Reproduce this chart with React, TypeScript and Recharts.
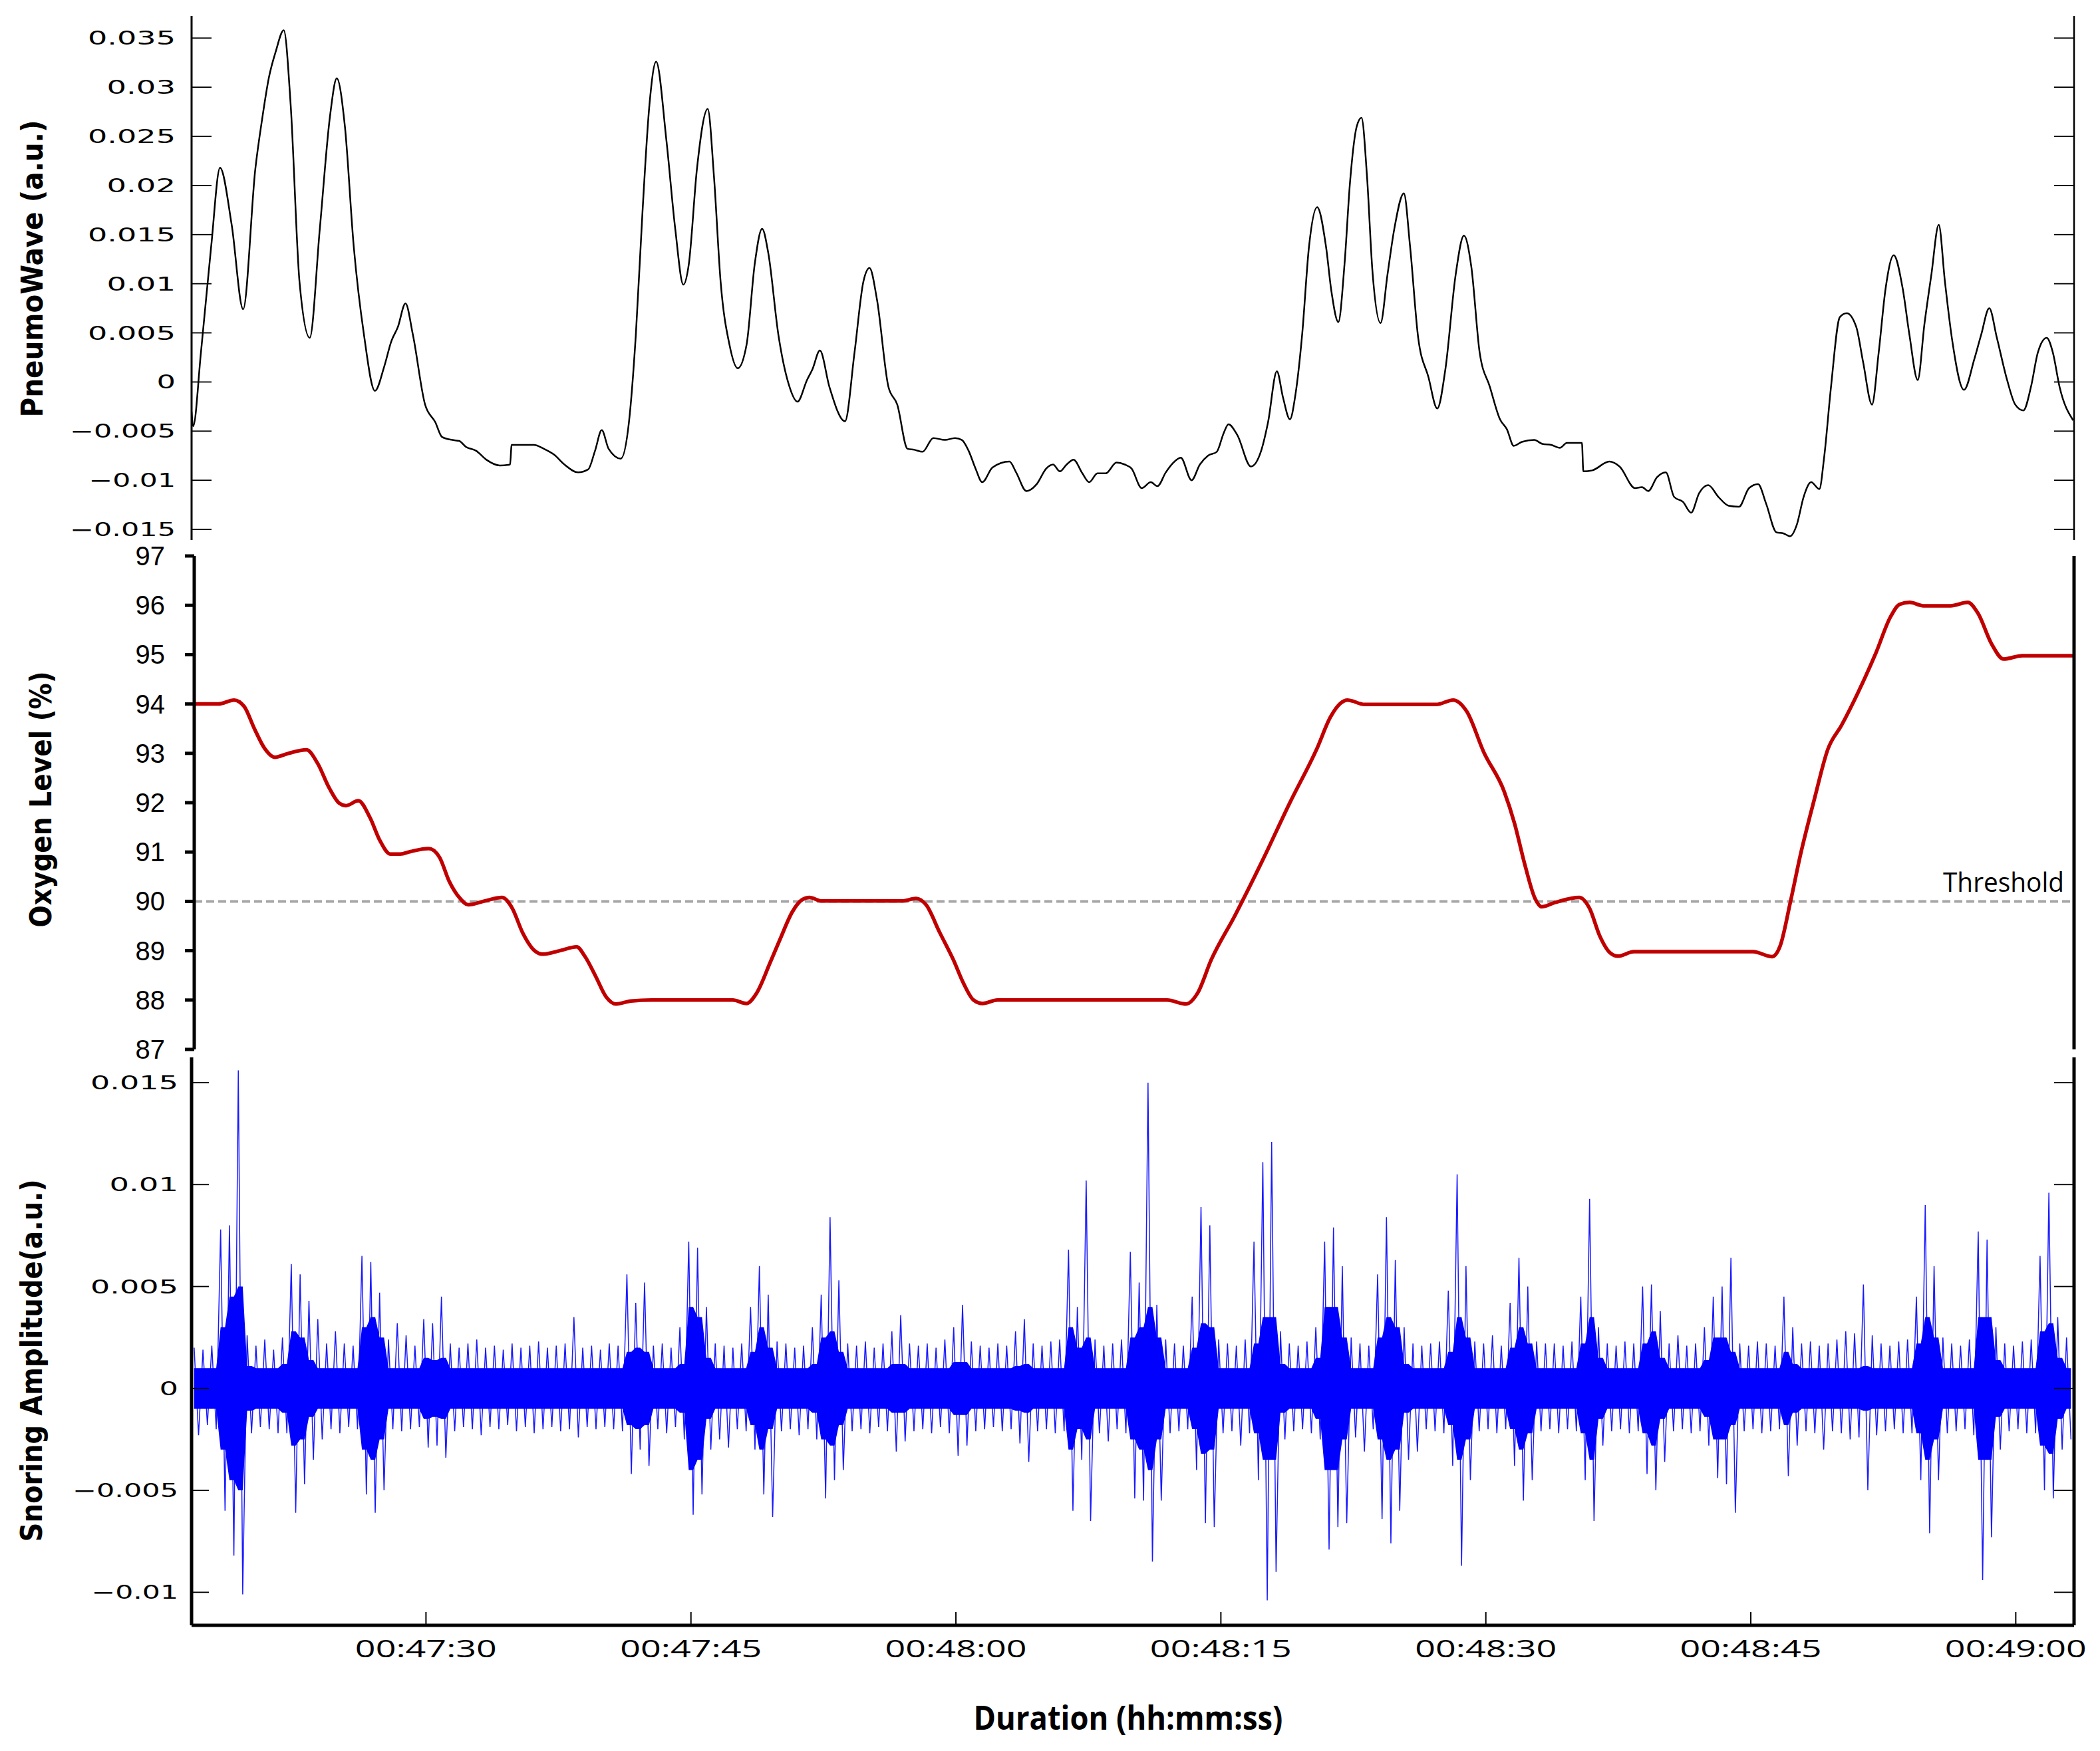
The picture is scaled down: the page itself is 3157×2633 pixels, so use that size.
import { LineChart, ComposedChart, Line, Area, XAxis, YAxis, ReferenceLine } from 'recharts'

// shared time axis (seconds since recording start)
const X_DOMAIN: [number, number] = [2836.73, 2943.3]
const TIME_TICKS = [2850, 2865, 2880, 2895, 2910, 2925, 2940]

// PneumoWave (a.u.)
const pnTime = [
  2836.73, 2836.82, 2837.26, 2837.84, 2838.34, 2839.0, 2839.65, 2840.34, 2840.72, 2841.11,
  2841.49, 2841.95, 2842.34, 2842.84, 2843.42, 2843.99, 2844.57, 2844.95, 2845.41, 2845.91,
  2846.49, 2847.11, 2847.64, 2848.03, 2848.41, 2848.84, 2849.26, 2849.95, 2850.53, 2850.91,
  2851.49, 2851.88, 2852.26, 2852.84, 2853.41, 2854.18, 2854.76, 2854.85, 2856.11, 2856.68,
  2857.26, 2857.84, 2858.61, 2859.18, 2859.57, 2859.95, 2860.34, 2861.03, 2861.49, 2861.88,
  2862.26, 2862.65, 2863.03, 2863.61, 2864.11, 2864.57, 2864.88, 2865.34, 2865.95, 2866.3,
  2866.68, 2867.18, 2867.65, 2868.15, 2868.61, 2869.03, 2869.38, 2869.95, 2870.53, 2871.03,
  2871.57, 2871.88, 2872.3, 2872.84, 2873.72, 2874.26, 2874.76, 2875.11, 2875.53, 2876.18,
  2876.68, 2877.26, 2877.65, 2878.11, 2878.72, 2879.38, 2879.95, 2880.34, 2880.72, 2881.11,
  2881.49, 2882.07, 2883.03, 2883.41, 2883.99, 2884.57, 2885.12, 2885.5, 2885.89, 2886.27,
  2886.66, 2887.16, 2887.55, 2888.01, 2888.48, 2889.09, 2889.56, 2889.94, 2890.52, 2891.03,
  2891.41, 2891.88, 2892.26, 2892.73, 2893.34, 2893.81, 2894.27, 2894.77, 2895.16, 2895.43,
  2895.93, 2896.7, 2897.28, 2897.67, 2898.17, 2898.52, 2898.91, 2899.22, 2899.6, 2899.99,
  2900.45, 2900.95, 2901.26, 2901.65, 2902.0, 2902.31, 2902.69, 2902.96, 2903.27, 2903.58,
  2904.04, 2904.43, 2904.82, 2905.36, 2905.71, 2906.17, 2906.75, 2907.25, 2907.71, 2908.29,
  2908.76, 2909.18, 2909.65, 2910.23, 2910.8, 2911.19, 2911.58, 2912.04, 2912.74, 2913.2,
  2913.7, 2914.2, 2914.59, 2915.44, 2915.52, 2916.02, 2916.99, 2917.57, 2918.45, 2918.84,
  2919.19, 2919.69, 2920.19, 2920.66, 2921.16, 2921.62, 2922.08, 2922.59, 2923.17, 2923.75,
  2924.33, 2924.9, 2925.41, 2925.87, 2926.45, 2926.84, 2927.22, 2927.61, 2927.99, 2928.42,
  2928.88, 2929.15, 2929.54, 2930.04, 2930.43, 2930.97, 2931.36, 2931.86, 2932.24, 2932.63,
  2933.09, 2933.6, 2933.98, 2934.45, 2934.83, 2935.22, 2935.64, 2935.99, 2936.38, 2937.07,
  2937.65, 2938.04, 2938.5, 2938.93, 2939.51, 2939.97, 2940.43, 2940.86, 2941.25, 2941.75,
  2942.1, 2942.48, 2943.25,
]
const pnValue = [
  -0.003, -0.0045, 0.003, 0.0138, 0.0218, 0.016, 0.0074, 0.0217, 0.0267, 0.031,
  0.0336, 0.0358, 0.0282, 0.0102, 0.0045, 0.0156, 0.0271, 0.0309, 0.026, 0.0138,
  0.0048, -0.0009, 0.0016, 0.0041, 0.0056, 0.008, 0.0048, -0.0023, -0.0041, -0.0056,
  -0.0059, -0.006, -0.0066, -0.007, -0.0079, -0.0085, -0.0084, -0.0064, -0.0064, -0.0068,
  -0.0074, -0.0084, -0.0092, -0.0089, -0.007, -0.0049, -0.0068, -0.0078, -0.0041, 0.0048,
  0.0174, 0.0282, 0.0326, 0.0246, 0.0156, 0.0099, 0.012, 0.0217, 0.0278, 0.021,
  0.0102, 0.0038, 0.0014, 0.0038, 0.012, 0.0156, 0.0131, 0.0048, -0.0002, -0.002,
  0.0002, 0.0013, 0.0032, -0.0005, -0.004, 0.003, 0.0102, 0.0116, 0.0084, -0.0005,
  -0.0023, -0.0068, -0.0069, -0.0071, -0.0057, -0.0059, -0.0057, -0.0059, -0.007, -0.0088,
  -0.0102, -0.0087, -0.0081, -0.0092, -0.0111, -0.0104, -0.0088, -0.0084, -0.0091, -0.0084,
  -0.0079, -0.0093, -0.0102, -0.0093, -0.0093, -0.0082, -0.0084, -0.0088, -0.0108, -0.0102,
  -0.0106, -0.0092, -0.0083, -0.0077, -0.01, -0.0084, -0.0075, -0.0071, -0.0052, -0.0043,
  -0.0054, -0.0086, -0.007, -0.0041, 0.0011, -0.0016, -0.0038, -0.0013, 0.0048, 0.0138,
  0.0178, 0.0138, 0.0092, 0.0061, 0.012, 0.0203, 0.026, 0.0269, 0.021, 0.0113,
  0.006, 0.0109, 0.0156, 0.0192, 0.0138, 0.0045, 0.0005, -0.0027, 0.0013, 0.0109,
  0.0149, 0.0117, 0.003, -0.0005, -0.0038, -0.0048, -0.0065, -0.0061, -0.0059, -0.0063,
  -0.0064, -0.0067, -0.0062, -0.0062, -0.0091, -0.009, -0.0081, -0.0086, -0.0108, -0.0107,
  -0.0111, -0.0097, -0.0092, -0.0117, -0.0122, -0.0133, -0.0113, -0.0105, -0.0117, -0.0126,
  -0.0127, -0.0108, -0.0104, -0.0124, -0.0153, -0.0154, -0.0157, -0.0145, -0.0117, -0.0102,
  -0.0109, -0.0077, -0.0005, 0.0066, 0.007, 0.0056, 0.002, -0.0023, 0.003, 0.0095,
  0.0129, 0.0095, 0.0048, 0.0002, 0.0059, 0.0109, 0.016, 0.0102, 0.0045, -0.0008,
  0.0023, 0.0048, 0.0075, 0.0045, 0.0002, -0.0023, -0.0029, -0.0005, 0.003, 0.0045,
  0.003, -0.0005, -0.0039,
]
const PNEUMO_TICKS = [-0.015, -0.01, -0.005, 0, 0.005, 0.01, 0.015, 0.02, 0.025, 0.03, 0.035]

// Oxygen level (%)
const oxTime = [
  2836.73, 2838.1, 2838.99, 2839.56, 2840.14, 2840.72, 2841.3, 2842.07, 2843.1, 2843.72,
  2844.38, 2844.95, 2845.34, 2846.03, 2846.69, 2847.26, 2847.84, 2848.41, 2848.99, 2850.03,
  2850.64, 2851.18, 2851.8, 2852.26, 2853.22, 2854.18, 2854.76, 2855.34, 2856.03, 2856.49,
  2857.45, 2858.41, 2858.87, 2859.49, 2860.07, 2860.64, 2861.49, 2862.64, 2867.26, 2868.03,
  2868.61, 2869.38, 2869.95, 2870.64, 2871.18, 2871.61, 2872.26, 2876.88, 2877.65, 2878.22,
  2878.99, 2879.76, 2880.34, 2880.91, 2881.42, 2882.26, 2891.88, 2892.96, 2893.61, 2894.39,
  2895.74, 2897.28, 2898.83, 2900.37, 2901.15, 2901.73, 2902.11, 2903.08, 2907.14, 2908.1,
  2908.87, 2909.84, 2910.99, 2911.58, 2912.16, 2912.74, 2913.12, 2913.9, 2915.25, 2915.83,
  2916.41, 2916.99, 2917.45, 2918.34, 2925.1, 2926.18, 2926.64, 2927.22, 2927.8, 2928.57,
  2929.35, 2930.12, 2931.09, 2932.05, 2932.9, 2933.41, 2933.98, 2934.76, 2936.3, 2937.27,
  2937.85, 2938.62, 2939.31, 2940.36, 2943.3,
]
const oxValue = [
  94.0, 94.0, 94.08, 93.95, 93.5, 93.1, 92.92, 93.0, 93.07, 92.8,
  92.3, 91.99, 91.94, 92.04, 91.7, 91.23, 90.96, 90.96, 91.01, 91.07,
  90.89, 90.41, 90.06, 89.93, 90.01, 90.08, 89.86, 89.37, 89.0, 88.93,
  89.0, 89.08, 88.89, 88.48, 88.07, 87.92, 87.98, 88.0, 88.0, 87.93,
  88.14, 88.76, 89.24, 89.79, 90.03, 90.08, 90.01, 90.01, 90.06, 89.93,
  89.37, 88.82, 88.34, 88.0, 87.93, 88.0, 88.0, 87.92, 88.14, 88.82,
  89.72, 90.82, 91.99, 93.09, 93.74, 94.02, 94.08, 93.99, 93.99, 94.08,
  93.85, 93.02, 92.23, 91.58, 90.75, 90.06, 89.89, 89.98, 90.08, 89.86,
  89.3, 88.96, 88.89, 88.98, 88.98, 88.88, 89.1, 89.99, 90.96, 92.06,
  93.09, 93.57, 94.26, 95.02, 95.77, 96.02, 96.06, 95.99, 95.99, 96.06,
  95.84, 95.22, 94.91, 94.98, 94.98,
]
const OXYGEN_TICKS = [87, 88, 89, 90, 91, 92, 93, 94, 95, 96, 97]
const OXYGEN_THRESHOLD = 90

// Snoring amplitude envelope, 0.5 s bins from 2837 s, in units of 1e-4 a.u.
const SNORE_START = 2837
const SNORE_STEP = 0.5
const snoreHi = [
  20, 19, 21, 78, 80, 156, 26, 21, 24, 19,
  25, 61, 56, 43, 34, 22, 28, 22, 21, 65,
  62, 47, 24, 32, 26, 21, 34, 32, 45, 22,
  20, 22, 24, 20, 21, 19, 22, 20, 21, 23,
  20, 21, 22, 35, 20, 21, 19, 22, 21, 56,
  42, 52, 21, 22, 20, 30, 72, 69, 40, 22,
  21, 20, 22, 40, 60, 46, 23, 22, 20, 21,
  30, 46, 84, 53, 22, 21, 23, 20, 22, 28,
  36, 22, 21, 22, 20, 24, 30, 41, 23, 21,
  20, 22, 21, 28, 34, 22, 21, 23, 24, 68,
  40, 102, 24, 21, 22, 24, 67, 52, 150, 41,
  24, 22, 21, 45, 89, 80, 24, 22, 21, 24,
  72, 111, 121, 28, 22, 21, 23, 30, 72, 79,
  60, 25, 22, 21, 56, 84, 63, 30, 22, 21,
  22, 23, 48, 105, 60, 23, 22, 26, 21, 42,
  64, 50, 23, 22, 22, 21, 23, 45, 93, 30,
  22, 21, 23, 22, 50, 51, 38, 22, 26, 21,
  22, 30, 45, 50, 64, 22, 21, 23, 22, 21,
  45, 30, 22, 23, 21, 22, 24, 28, 27, 51,
  26, 22, 21, 23, 24, 45, 90, 60, 25, 22,
  21, 24, 77, 73, 30, 22, 21, 23, 24, 65,
  96, 35, 25,
]
const snoreLo = [
  -23, -18, -20, -60, -82, -101, -22, -19, -20, -22,
  -22, -61, -47, -35, -25, -20, -22, -19, -20, -52,
  -61, -50, -20, -21, -20, -19, -29, -28, -34, -21,
  -19, -20, -23, -19, -20, -18, -21, -19, -22, -20,
  -19, -21, -20, -24, -19, -20, -19, -20, -21, -42,
  -30, -38, -20, -22, -19, -25, -62, -52, -30, -25,
  -29, -20, -21, -30, -52, -63, -21, -20, -23, -20,
  -25, -54, -45, -40, -21, -20, -22, -19, -21, -31,
  -26, -21, -20, -22, -19, -22, -33, -28, -21, -20,
  -19, -21, -20, -27, -36, -21, -20, -22, -21, -60,
  -35, -65, -22, -26, -20, -22, -54, -55, -85, -55,
  -22, -21, -20, -40, -66, -68, -22, -21, -28, -22,
  -45, -104, -90, -25, -21, -20, -22, -25, -79, -68,
  -66, -24, -31, -20, -64, -76, -60, -35, -31, -20,
  -21, -22, -38, -87, -45, -21, -20, -22, -20, -38,
  -55, -45, -21, -20, -22, -20, -21, -45, -65, -28,
  -21, -20, -22, -21, -42, -50, -36, -21, -20, -22,
  -21, -28, -44, -47, -61, -21, -20, -22, -21, -20,
  -43, -28, -21, -22, -30, -21, -22, -25, -24, -50,
  -23, -21, -20, -22, -22, -45, -71, -45, -22, -21,
  -20, -23, -94, -73, -30, -21, -20, -22, -22, -50,
  -54, -30, -25,
]
const snoreCore = [
  10, 10, 10, 30, 45, 50, 11, 10, 10, 10,
  12, 28, 25, 14, 10, 10, 10, 10, 10, 30,
  35, 25, 10, 10, 10, 10, 15, 14, 15, 10,
  10, 10, 10, 10, 10, 10, 10, 10, 10, 10,
  10, 10, 10, 10, 10, 10, 10, 10, 10, 18,
  20, 18, 10, 10, 10, 12, 40, 35, 15, 10,
  10, 10, 10, 18, 30, 20, 10, 10, 10, 10,
  12, 25, 28, 18, 10, 10, 10, 10, 10, 12,
  12, 10, 10, 10, 10, 10, 13, 13, 10, 10,
  10, 10, 10, 11, 12, 10, 10, 10, 10, 30,
  20, 25, 10, 10, 10, 10, 25, 30, 40, 25,
  10, 10, 10, 20, 32, 30, 10, 10, 10, 10,
  22, 35, 35, 12, 10, 10, 10, 15, 40, 40,
  25, 10, 10, 10, 25, 35, 30, 12, 10, 10,
  10, 10, 18, 35, 25, 10, 10, 10, 10, 20,
  30, 22, 10, 10, 10, 10, 10, 22, 35, 15,
  10, 10, 10, 10, 22, 28, 15, 10, 10, 10,
  10, 14, 25, 25, 18, 10, 10, 10, 10, 10,
  18, 12, 10, 10, 10, 10, 10, 10, 10, 11,
  10, 10, 10, 10, 10, 22, 35, 25, 10, 10,
  10, 10, 35, 35, 14, 10, 10, 10, 10, 28,
  32, 15, 10,
]
const SNORE_TICKS = [-0.01, -0.005, 0, 0.005, 0.01, 0.015]

const pnRows = pnTime.map((t, i) => ({ t, v: pnValue[i] }))
const oxRows = oxTime.map((t, i) => ({ t, v: oxValue[i] }))
const snoreRows = snoreHi.flatMap((hi, i) => {
  const t = SNORE_START + i * SNORE_STEP
  const c = snoreCore[i] * 1e-4
  return [
    { t: t - SNORE_STEP / 4, amp: hi * 1e-4, core: [-c, c] },
    { t: t + SNORE_STEP / 4, amp: snoreLo[i] * 1e-4, core: [-c, c] },
  ]
})

const pad = (n: number) => String(n).padStart(2, '0')
const hms = (s: number) => `${pad(Math.floor(s / 3600))}:${pad(Math.floor((s % 3600) / 60))}:${pad(Math.round(s % 60))}`
const numLabel = (v: number) => (v < 0 ? '\u2212' : '') + String(Math.abs(v))
// the original tick labels are drawn horizontally stretched
const wideWidth = (s: string) => [...s].reduce((w, ch) => w + (ch === '.' ? 18 : ch === '\u2212' ? 27 : 28.5), 0)

function WideTick(props: any) {
  const { x, y, payload, gap, inward } = props
  const s = numLabel(payload.value)
  return (
    <g>
      <line x1={x} y1={y} x2={x + inward} y2={y} stroke='#000' strokeWidth={1.8} />
      <text x={x - gap} y={y + 10} textAnchor='end' fontFamily='DejaVu Sans' fontSize={28} fill='#000'
        textLength={wideWidth(s)} lengthAdjust='spacingAndGlyphs'>{s}</text>
    </g>
  )
}

function RightTick(props: any) {
  const { x, y } = props
  return <line x1={x - 30} y1={y} x2={x} y2={y} stroke='#000' strokeWidth={1.8} />
}

function OxygenTick(props: any) {
  const { x, y, payload } = props
  return (
    <g>
      <line x1={x - 14} y1={y} x2={x} y2={y} stroke='#000' strokeWidth={5} />
      <text x={x - 44} y={y + 14} textAnchor='end' fontFamily='Liberation Sans' fontSize={40} fill='#000'>{payload.value}</text>
    </g>
  )
}

function TimeTick(props: any) {
  const { x, y, payload } = props
  return (
    <g>
      <line x1={x} y1={y} x2={x} y2={y - 20} stroke='#000' strokeWidth={2} />
      <text x={x} y={y + 48} textAnchor='middle' fontFamily='Open Sans' fontSize={36} fill='#000'
        textLength={213} lengthAdjust='spacingAndGlyphs'>{hms(payload.value)}</text>
    </g>
  )
}

const yTitle = (text: string, x: number, y: number, len: number) => () => (
  <text transform={`translate(${x},${y}) rotate(-90)`} textAnchor='middle' fontFamily='DejaVu Sans' fontWeight='bold'
    fontSize={44} fill='#000' textLength={len} lengthAdjust='spacingAndGlyphs'>{text}</text>
)

const W = 3157

export default function App() {
  return (
    <div style={{ position: 'absolute', left: 0, top: 0, width: W, height: 2633, background: '#fff' }}>
      <div style={{ position: 'absolute', left: 0, top: 0 }}>
        <LineChart width={W} height={830} data={pnRows} margin={{ top: 24, right: 0, bottom: 18, left: 0 }}>
          <XAxis dataKey='t' type='number' domain={X_DOMAIN} allowDataOverflow hide />
          <YAxis yAxisId='l' width={288} domain={[-0.01608, 0.03725]} allowDataOverflow ticks={PNEUMO_TICKS} interval={0}
            tickSize={0} tickMargin={0} tickLine={false} axisLine={{ stroke: '#000', strokeWidth: 3 }}
            tick={(p: any) => <WideTick {...p} gap={24} inward={30} />}
            label={yTitle('PneumoWave (a.u.)', 64, 404, 447)} />
          <YAxis yAxisId='r' orientation='right' width={39} domain={[-0.01608, 0.03725]} allowDataOverflow ticks={PNEUMO_TICKS}
            interval={0} tickSize={0} tickMargin={0} tickLine={false} axisLine={{ stroke: '#000', strokeWidth: 2.5 }}
            tick={(p: any) => <RightTick {...p} />} />
          <Line yAxisId='l' type='monotone' dataKey='v' stroke='#000' strokeWidth={2.5} dot={false} isAnimationActive={false} />
        </LineChart>
      </div>

      <div style={{ position: 'absolute', left: 0, top: 800 }}>
        <LineChart width={W} height={800} data={oxRows} margin={{ top: 36, right: 0, bottom: 22, left: 0 }}>
          <XAxis dataKey='t' type='number' domain={X_DOMAIN} allowDataOverflow hide />
          <YAxis yAxisId='l' width={292} domain={[87, 97]} allowDataOverflow ticks={OXYGEN_TICKS} interval={0}
            tickSize={0} tickMargin={0} tickLine={false} axisLine={{ stroke: '#000', strokeWidth: 5 }}
            tick={(p: any) => <OxygenTick {...p} />}
            label={yTitle('Oxygen Level (%)', 77, 402, 385)} />
          <YAxis yAxisId='r' orientation='right' width={39} domain={[87, 97]} tick={false} tickLine={false}
            axisLine={{ stroke: '#000', strokeWidth: 5 }} />
          <ReferenceLine yAxisId='l' y={OXYGEN_THRESHOLD} stroke='#a6a6a6' strokeWidth={4} strokeDasharray='12 6'
            label={(p: any) => (
              <text x={p.viewBox.x + p.viewBox.width - 15} y={p.viewBox.y - 14} textAnchor='end' fontFamily='Open Sans'
                fontSize={40} fill='#000' textLength={182} lengthAdjust='spacingAndGlyphs'>Threshold</text>
            )} />
          <Line yAxisId='l' type='monotone' dataKey='v' stroke='#c00000' strokeWidth={5.5} dot={false} isAnimationActive={false} />
        </LineChart>
      </div>

      <div style={{ position: 'absolute', left: 0, top: 1560 }}>
        <ComposedChart width={W} height={1073} data={snoreRows} margin={{ top: 30, right: 0, bottom: 0, left: 0 }}>
          <XAxis dataKey='t' type='number' domain={X_DOMAIN} allowDataOverflow ticks={TIME_TICKS} interval={0} height={189}
            tickSize={0} tickMargin={0} tickLine={false} axisLine={{ stroke: '#000', strokeWidth: 5 }}
            tick={(p: any) => <TimeTick {...p} />}
            label={() => (
              <text x={1696} y={1041} textAnchor='middle' fontFamily='Open Sans' fontWeight='bold' fontSize={50} fill='#000'
                textLength={465} lengthAdjust='spacingAndGlyphs'>Duration (hh:mm:ss)</text>
            )} />
          <YAxis yAxisId='l' width={288} domain={[-0.01162, 0.01624]} allowDataOverflow ticks={SNORE_TICKS} interval={0}
            tickSize={0} tickMargin={0} tickLine={false} axisLine={{ stroke: '#000', strokeWidth: 5 }}
            tick={(p: any) => <WideTick {...p} gap={20} inward={26} />}
            label={yTitle('Snoring Amplitude(a.u.)', 63, 486, 545)} />
          <YAxis yAxisId='r' orientation='right' width={39} domain={[-0.01162, 0.01624]} allowDataOverflow ticks={SNORE_TICKS}
            interval={0} tickSize={0} tickMargin={0} tickLine={false} axisLine={{ stroke: '#000', strokeWidth: 5 }}
            tick={(p: any) => <RightTick {...p} />} />
          <Area yAxisId='l' type='linear' dataKey='core' fill='#0000ff' fillOpacity={1} stroke='none' isAnimationActive={false} />
          <Line yAxisId='l' type='linear' dataKey='amp' stroke='#0000ff' strokeWidth={1.5} strokeOpacity={0.9} dot={false} isAnimationActive={false} />
        </ComposedChart>
      </div>
    </div>
  )
}
